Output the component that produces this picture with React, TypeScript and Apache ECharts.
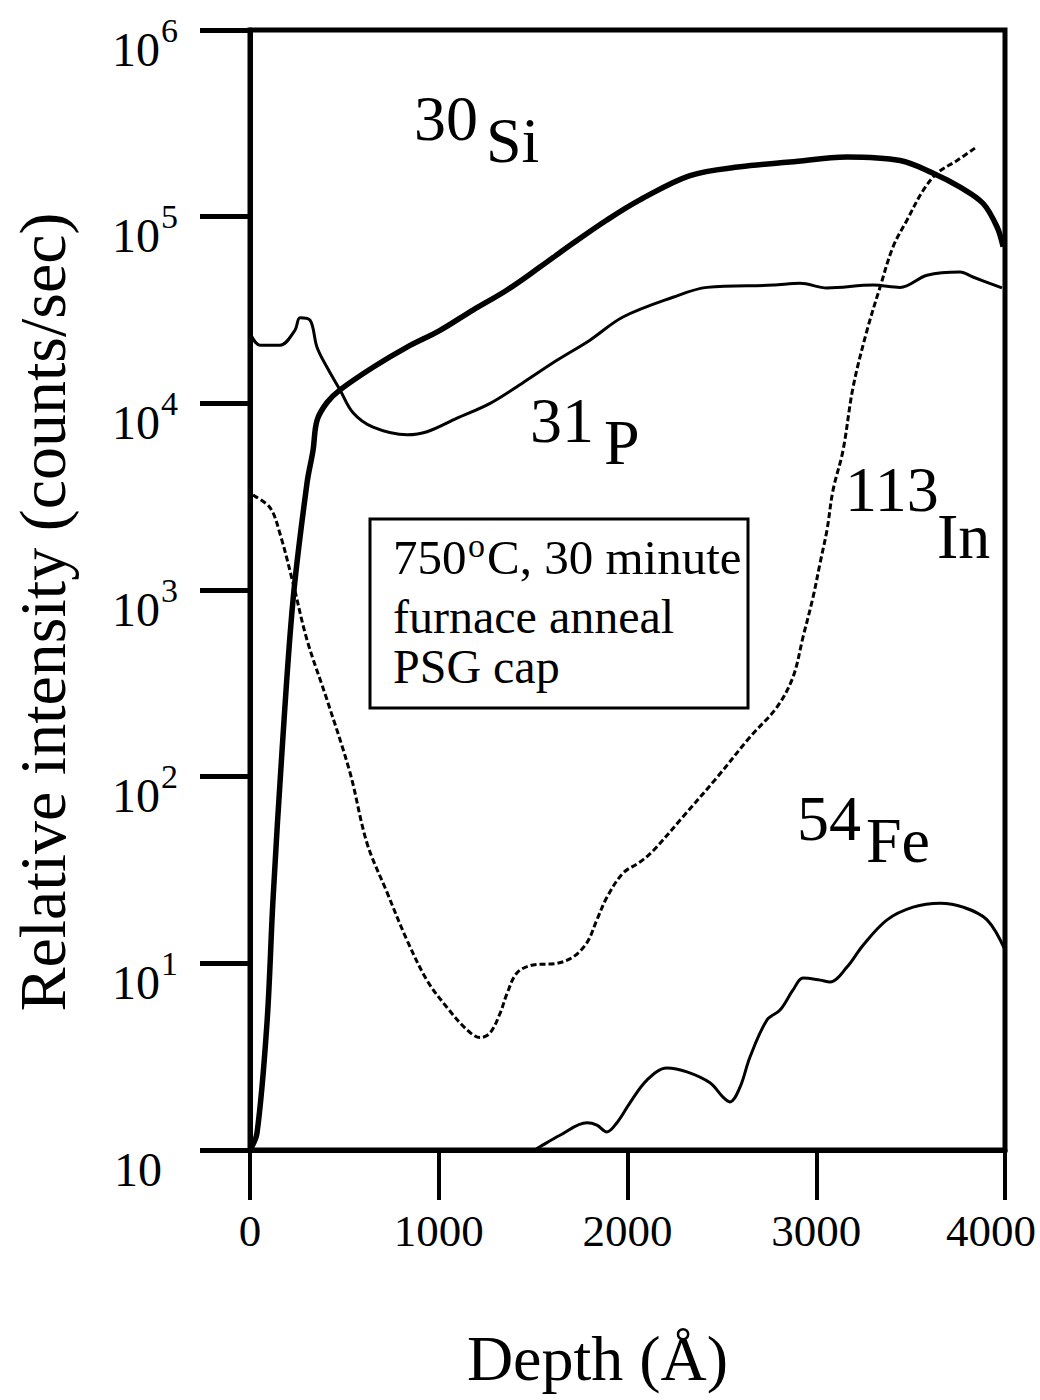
import React, { useEffect, useRef } from "react";
import * as echarts from "echarts";

const FONT = "'Liberation Serif', 'Times New Roman', serif";

// Depth axis ticks (Å)
const depthTicks = [0, 1000, 2000, 3000, 4000];

// 30Si profile: depth (Å) and intensity (counts/sec)
const siDepth = [0, 37, 90, 122, 170, 228, 302, 334, 355, 408, 477, 652, 832, 1007, 1181, 1362, 1536, 1711, 1891, 2066, 2331, 2596, 2861, 3163, 3444, 3619, 3762, 3883, 3958, 3990];
const siCounts = [1, 1.23, 4.8, 22, 139, 885, 3740, 5600, 8100, 10100, 11800, 15600, 20000, 24600, 31600, 40500, 53700, 72000, 96000, 123000, 166000, 185000, 196000, 209000, 200000, 171000, 144000, 118000, 88000, 69000];

// 31P profile
const pDepth = [0, 53, 159, 238, 265, 318, 355, 408, 477, 546, 652, 832, 938, 1097, 1272, 1446, 1626, 1801, 1976, 2241, 2421, 2771, 2914, 3057, 3301, 3444, 3587, 3762, 3830, 3984];
const pCounts = [23800, 20500, 20500, 24600, 28700, 27900, 20000, 15600, 11800, 8900, 7450, 6780, 7040, 8330, 10000, 12900, 17000, 21800, 29000, 37000, 41800, 43000, 44000, 41500, 43000, 41800, 48500, 50500, 47500, 41500];

// 113In profile
const inDepth = [16, 106, 159, 228, 302, 408, 530, 620, 726, 832, 938, 1044, 1150, 1219, 1272, 1325, 1362, 1415, 1499, 1626, 1711, 1785, 1838, 1891, 1976, 2066, 2135, 2294, 2474, 2649, 2792, 2877, 2930, 2983, 3020, 3057, 3089, 3142, 3195, 3269, 3338, 3407, 3481, 3566, 3640, 3746, 3841];
const inCounts = [3220, 2760, 2000, 1090, 540, 258, 105, 44, 24, 13.3, 8.1, 5.8, 4.4, 4.0, 4.24, 5.4, 6.9, 8.9, 9.8, 10.0, 10.8, 12.9, 17.1, 22.6, 30.4, 34.9, 40, 61, 99, 163, 236, 342, 560, 915, 1390, 2100, 3430, 5600, 12200, 24600, 41900, 69000, 96000, 138000, 171000, 200000, 233000];

// 54Fe profile
const feDepth = [1510, 1536, 1642, 1785, 1838, 1891, 1944, 2013, 2103, 2209, 2315, 2437, 2506, 2543, 2596, 2649, 2739, 2808, 2877, 2930, 3020, 3073, 3163, 3248, 3375, 3513, 3656, 3778, 3905, 4000];
const feCounts = [1, 1.04, 1.2, 1.4, 1.36, 1.25, 1.4, 1.79, 2.37, 2.75, 2.62, 2.29, 1.92, 1.81, 2.17, 3.15, 4.97, 5.62, 7.2, 8.34, 8.13, 7.94, 9.55, 12.5, 17.1, 20.0, 21.0, 20.0, 17.1, 11.8];

// Annealing conditions shown in the boxed note
const noteLines = ["furnace anneal", "PSG cap"];

const zip = (xs: number[], ys: number[]) => xs.map((x, i) => [x, ys[i]]);

function label(text: string, x: number, y: number, size: number, lineHeight?: number) {
  return {
    type: "text",
    x,
    y,
    z: 10,
    style: {
      text,
      fontFamily: FONT,
      fontSize: size,
      lineHeight: lineHeight ?? size,
      fill: "#000",
      align: "left",
      verticalAlign: "middle",
    },
  };
}

export default function App() {
  const ref = useRef<HTMLDivElement>(null);

  useEffect(() => {
    if (!ref.current) return;
    const chart = echarts.init(ref.current, null, { renderer: "svg" });

    const line = (name: string, data: number[][], width: number, dashed = false) => ({
      name,
      type: "line",
      data,
      showSymbol: false,
      smooth: 0.35,
      lineStyle: { color: "#000", width, type: dashed ? [6, 3] : "solid" },
      z: 3,
    });

    const lastTick = depthTicks[depthTicks.length - 1];

    chart.setOption({
      animation: false,
      backgroundColor: "#fff",
      textStyle: { fontFamily: FONT, color: "#000" },
      grid: {
        left: 250,
        right: 35,
        top: 30,
        bottom: 250,
        outerBoundsMode: "none",
        containLabel: false,
        show: true,
        borderColor: "#000",
        borderWidth: 5,
        backgroundColor: "transparent",
      },
      xAxis: {
        type: "value",
        min: depthTicks[0],
        max: lastTick,
        interval: depthTicks[1] - depthTicks[0],
        name: "Depth (Å)",
        nameLocation: "middle",
        nameGap: 176,
        nameTextStyle: { fontFamily: FONT, fontSize: 64, color: "#000", padding: [0, 60, 0, 0] },
        axisLine: { show: true, lineStyle: { color: "#000", width: 5 } },
        axisTick: { show: true, inside: false, length: 50, lineStyle: { color: "#000", width: 4 } },
        axisLabel: {
          margin: 58,
          color: "#000",
          formatter: (v: number) => (v === lastTick ? `{r|${v}}` : `{n|${v}}`),
          rich: {
            n: { fontFamily: FONT, fontSize: 45, color: "#000" },
            r: { fontFamily: FONT, fontSize: 45, color: "#000", padding: [0, 28, 0, 0] },
          },
        },
        splitLine: { show: false },
      },
      yAxis: {
        type: "log",
        logBase: 10,
        min: 1,
        max: 1e6,
        name: "Relative intensity (counts/sec)",
        nameLocation: "middle",
        nameRotate: 90,
        nameGap: 175,
        nameTextStyle: { fontFamily: FONT, fontSize: 66, color: "#000", padding: [0, 44, 0, 0] },
        axisLine: { show: true, lineStyle: { color: "#000", width: 5 } },
        axisTick: { show: true, inside: false, length: 50, lineStyle: { color: "#000", width: 5 } },
        splitLine: { show: false },
        minorTick: { show: false },
        axisLabel: {
          margin: 72,
          formatter: (v: number) => {
            const e = Math.round(Math.log10(v));
            return e === 0 ? "{z|10}" : `{b|10}{s|${e}}`;
          },
          rich: {
            b: { fontFamily: FONT, fontSize: 48, lineHeight: 48, padding: [38, 0, 0, 0], color: "#000" },
            s: { fontFamily: FONT, fontSize: 34, lineHeight: 34, padding: [0, 0, 0, 1], color: "#000" },
            z: { fontFamily: FONT, fontSize: 48, lineHeight: 48, padding: [38, 16, 0, 0], color: "#000" },
          },
        },
      },
      series: [
        line("30Si", zip(siDepth, siCounts), 5.5),
        line("31P", zip(pDepth, pCounts), 3),
        line("113In", zip(inDepth, inCounts), 3, true),
        line("54Fe", zip(feDepth, feCounts), 3),
      ],
      graphic: [
        label("30", 414, 118, 64),
        label("Si", 486, 140, 64),
        label("31", 530, 420, 64),
        label("P", 604, 442, 64),
        label("113", 845, 489, 64),
        label("In", 937, 536, 64),
        label("54", 797, 818, 64),
        label("Fe", 866, 840, 64),
        {
          type: "rect",
          z: 5,
          shape: { x: 370, y: 519, width: 378, height: 189 },
          style: { fill: "#fff", stroke: "#000", lineWidth: 3 },
        },
        label("750", 393, 557, 49, 40),
        label("o", 468, 545, 34, 24),
        label("C, 30 minute", 487, 557, 49, 40),
        label(noteLines[0], 393, 616, 48, 40),
        label(noteLines[1], 393, 666, 48, 40),
      ],
    });

    return () => chart.dispose();
  }, []);

  return (
    <div
      ref={ref}
      style={{ position: "absolute", left: 0, top: 0, width: 1040, height: 1400 }}
    />
  );
}
